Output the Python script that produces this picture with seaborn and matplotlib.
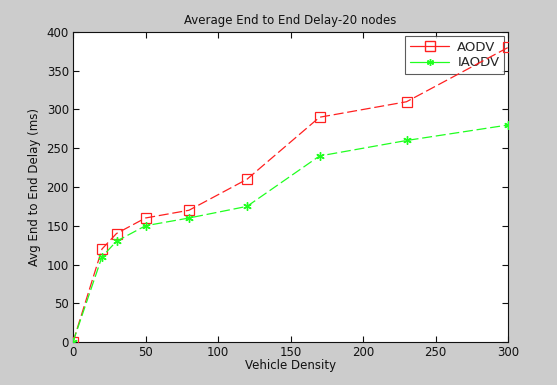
import matplotlib
matplotlib.use("Agg")
import matplotlib.pyplot as plt
import seaborn as sns
import pandas as pd
from matplotlib.lines import Line2D

density = [0, 20, 30, 50, 80, 120, 170, 230, 300]
aodv = [0, 120, 140, 160, 170, 210, 290, 310, 380]
iaodv = [0, 110, 130, 150, 160, 175, 240, 260, 280]

sns.set_style("white")
plt.rcParams['font.family'] = ['DejaVu Sans']

fig = plt.figure(figsize=(5.57, 3.85), dpi=100, facecolor='#cccccc')
ax = fig.add_axes([73/557, 43/385, 435/557, 310/385])
ax.set_facecolor('white')

df_a = pd.DataFrame({'x': density, 'y': aodv})
df_i = pd.DataFrame({'x': density, 'y': iaodv})

sns.lineplot(data=df_a, x='x', y='y', ax=ax, color='#ff2020', linestyle=(0, (8, 3)),
             linewidth=0.9, marker='s', markersize=6.5, markerfacecolor='none',
             markeredgecolor='#ff2020', markeredgewidth=0.9, zorder=3)
sns.lineplot(data=df_i, x='x', y='y', ax=ax, color='#20ff20', linestyle=(0, (8, 3)),
             linewidth=0.9, marker=(6, 2, 0), markersize=6,
             markeredgecolor='#20ff20', markeredgewidth=1.0, zorder=3)

ax.set_xlim(0, 300)
ax.set_ylim(0, 400)
ax.set_xticks([0, 50, 100, 150, 200, 250, 300])
ax.set_yticks([0, 50, 100, 150, 200, 250, 300, 350, 400])
ax.tick_params(direction='in', top=True, right=True, length=4, width=0.8,
               labelsize=8.5, colors='#111111', pad=3, bottom=True, left=True)
for s in ax.spines.values():
    s.set_color('#111111')
    s.set_linewidth(0.8)

ax.set_xlabel('Vehicle Density', fontsize=8.5, labelpad=0, color='#111111')
ax.set_ylabel('Avg End to End Delay (ms)', fontsize=8.5, labelpad=4, color='#111111')
ax.set_title('Average End to End Delay-20 nodes', fontsize=8.5, pad=6, color='#111111')

handles = [
    Line2D([0], [0], color='#ff2020', lw=0.9, marker='s', markersize=7,
           markerfacecolor='none', markeredgecolor='#ff2020'),
    Line2D([0], [0], color='#20ff20', lw=0.9, marker=(6, 2, 0), markersize=5,
           markeredgecolor='#20ff20'),
]
leg = ax.legend(handles, ['AODV', 'IAODV'], loc='upper right', fontsize=9.5,
                frameon=True, fancybox=False, edgecolor='#333333',
                borderaxespad=0.3, handlelength=3.0, borderpad=0.35,
                labelspacing=0.2, handletextpad=0.6)
leg.get_frame().set_linewidth(0.8)
leg.set_zorder(2)

fig.savefig('out.png', dpi=100, facecolor=fig.get_facecolor())
